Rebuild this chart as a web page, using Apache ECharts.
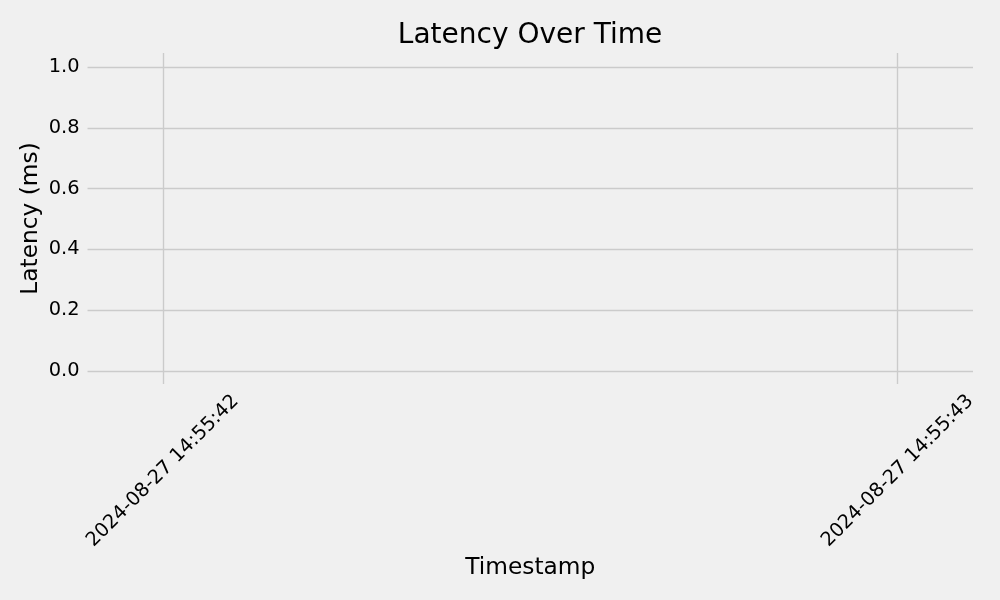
<!DOCTYPE html>
<html>
<head>
<meta charset="utf-8">
<script src="https://cdn.jsdelivr.net/npm/echarts@6/dist/echarts.min.js"></script>
<style>
  html, body { margin: 0; padding: 0; background: #f0f0f0; }
  #chart { width: 1000px; height: 600px; }
</style>
</head>
<body>
<div id="chart"></div>
<script>
// ---- data (no visible latency points in the reference: the series is empty) ----
const timestamps = [];          // measurement times
const latencyMs = [];           // latency values (ms)
const xTickLabels = ['2024-08-27 14:55:42', '2024-08-27 14:55:43'];
const yTickValues = [0.0, 0.2, 0.4, 0.6, 0.8, 1.0];

function parseUTC(s) {
  const [d, t] = s.split(' ');
  const [Y, M, D] = d.split('-').map(Number);
  const [h, m, sec] = t.split(':').map(Number);
  const whole = Math.floor(sec);
  return Date.UTC(Y, M - 1, D, h, m, whole) + Math.round((sec - whole) * 1000);
}
function pad(n) { return String(n).padStart(2, '0'); }
function fmt(v) {
  const d = new Date(Math.round(v));
  return d.getUTCFullYear() + '-' + pad(d.getUTCMonth() + 1) + '-' + pad(d.getUTCDate()) + ' ' +
         pad(d.getUTCHours()) + ':' + pad(d.getUTCMinutes()) + ':' + pad(d.getUTCSeconds());
}

const xTicks = xTickLabels.map(parseUTC);
const seriesData = timestamps.map((t, i) => [parseUTC(t), latencyMs[i]]);

const FONT = 'DejaVu Sans';
const chart = echarts.init(document.getElementById('chart'), null, { renderer: 'canvas' });
chart.setOption({
  backgroundColor: '#f0f0f0',
  animation: false,
  textStyle: { fontFamily: FONT },
  title: {
    text: 'Latency Over Time',
    left: 525,
    textAlign: 'center',
    top: 17,
    textStyle: { fontFamily: FONT, fontSize: 28, fontWeight: 'normal', color: '#000' }
  },
  grid: { left: 87.5, right: 27, top: 53, bottom: 216, containLabel: false },
  xAxis: {
    type: 'value',
    min: xTicks[0] - 102.5,
    max: xTicks[1] + 102.5,
    name: 'Timestamp',
    nameLocation: 'middle',
    nameGap: 172,
    nameMoveOverlap: false,
    nameTextStyle: { fontFamily: FONT, fontSize: 23.3, color: '#000' },
    axisLine: { show: false },
    axisTick: { show: false, customValues: xTicks },
    axisLabel: {
      customValues: xTicks,
      formatter: fmt,
      rotate: 45,
      align: 'center',
      verticalAlign: 'middle',
      margin: 87,
      fontFamily: FONT,
      fontSize: 19.4,
      color: '#000'
    },
    splitLine: { show: true, lineStyle: { color: '#cbcbcb', width: 1.4 } }
  },
  yAxis: {
    type: 'value',
    min: -0.043,
    max: 1.046,
    name: 'Latency (ms)',
    nameLocation: 'middle',
    nameGap: 45,
    nameMoveOverlap: false,
    nameTextStyle: { fontFamily: FONT, fontSize: 23.3, color: '#000' },
    axisLine: { show: false },
    axisTick: { show: false, customValues: yTickValues },
    axisLabel: {
      customValues: yTickValues,
      formatter: v => v.toFixed(1),
      margin: 8,
      padding: [2, 0, 0, 0],
      fontFamily: FONT,
      fontSize: 19.4,
      color: '#000'
    },
    splitLine: { show: true, lineStyle: { color: '#cbcbcb', width: 1.4 } }
  },
  series: [{
    type: 'line',
    name: 'Latency',
    data: seriesData,
    showSymbol: false,
    lineStyle: { color: '#008fd5', width: 4 }
  }]
});
</script>
</body>
</html>
